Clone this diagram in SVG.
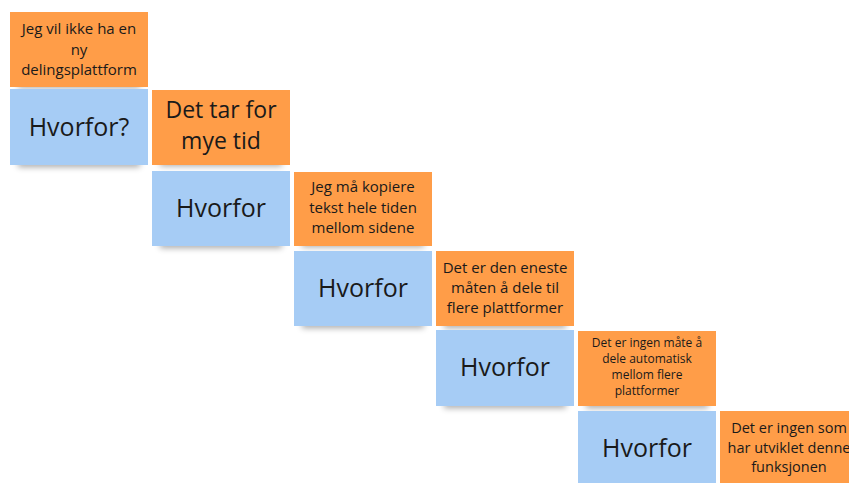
<svg xmlns="http://www.w3.org/2000/svg" width="849" height="483" viewBox="0 0 849 483">
  <defs>
    <filter id="soft" x="-20%" y="-100%" width="140%" height="300%">
      <feGaussianBlur stdDeviation="3"/>
    </filter>
  </defs>
  <style>
    .shadow { fill: #000; opacity: 0.34; filter: url(#soft); }
    .orange { fill: #FF9D48; }
    .blue { fill: #A6CCF5; }
    text { font-family: "Open Sans", "Noto Sans", sans-serif; fill: #1a1a1a; text-anchor: middle; }
    .big { font-size: 25px; }
    .mid { font-size: 23px; }
    .norm { font-size: 15px; }
    .edge { font-size: 14.5px; }
    .small { font-size: 12px; }
  </style>
  <rect width="849" height="483" fill="#ffffff"/>

  <g id="note-start">
    <rect class="shadow" x="18" y="80" width="122" height="8"/>
    <rect class="orange" x="10" y="12" width="138" height="75"/>
    <text class="norm" x="79" y="34">Jeg vil ikke ha en</text>
    <text class="norm" x="79" y="55">ny</text>
    <text class="norm" x="79" y="75">delingsplattform</text>
  </g>

  <g id="why-1">
    <rect class="shadow" x="18" y="159" width="122" height="8"/>
    <rect class="blue" x="10" y="89" width="138" height="76"/>
    <text class="big" x="79" y="136">Hvorfor?</text>
  </g>

  <g id="answer-1">
    <rect class="shadow" x="160" y="158" width="122" height="8"/>
    <rect class="orange" x="152" y="90" width="138" height="75"/>
    <text class="mid" x="221" y="118">Det tar for</text>
    <text class="mid" x="221" y="149">mye tid</text>
  </g>

  <g id="why-2">
    <rect class="shadow" x="160" y="240" width="122" height="8"/>
    <rect class="blue" x="152" y="171" width="138" height="75"/>
    <text class="big" x="221" y="217">Hvorfor</text>
  </g>

  <g id="answer-2">
    <rect class="shadow" x="302" y="239" width="122" height="8"/>
    <rect class="orange" x="294" y="172" width="138" height="74"/>
    <text class="norm" x="363" y="192">Jeg må kopiere</text>
    <text class="norm" x="363" y="213">tekst hele tiden</text>
    <text class="norm" x="363" y="233">mellom sidene</text>
  </g>

  <g id="why-3">
    <rect class="shadow" x="302" y="320" width="122" height="8"/>
    <rect class="blue" x="294" y="251" width="138" height="75"/>
    <text class="big" x="363" y="297">Hvorfor</text>
  </g>

  <g id="answer-3">
    <rect class="shadow" x="444" y="320" width="122" height="8"/>
    <rect class="orange" x="436" y="251" width="138" height="75"/>
    <text class="norm" x="505" y="273">Det er den eneste</text>
    <text class="norm" x="505" y="293">måten å dele til</text>
    <text class="norm" x="505" y="313">flere plattformer</text>
  </g>

  <g id="why-4">
    <rect class="shadow" x="444" y="400" width="122" height="8"/>
    <rect class="blue" x="436" y="330" width="138" height="76"/>
    <text class="big" x="505" y="376">Hvorfor</text>
  </g>

  <g id="answer-4">
    <rect class="shadow" x="586" y="400" width="122" height="8"/>
    <rect class="orange" x="578" y="331" width="138" height="75"/>
    <text class="small" x="647" y="347">Det er ingen måte å</text>
    <text class="small" x="647" y="363">dele automatisk</text>
    <text class="small" x="647" y="379">mellom flere</text>
    <text class="small" x="647" y="395">plattformer</text>
  </g>

  <g id="why-5">
    <rect class="blue" x="578" y="411" width="138" height="76"/>
    <text class="big" x="647" y="457">Hvorfor</text>
  </g>

  <g id="answer-5">
    <rect class="orange" x="720" y="411" width="138" height="76"/>
    <text class="edge" x="789" y="433">Det er ingen som</text>
    <text class="edge" x="789" y="453">har utviklet denne</text>
    <text class="edge" x="789" y="472">funksjonen</text>
  </g>

  <g id="connectors"></g>
</svg>
